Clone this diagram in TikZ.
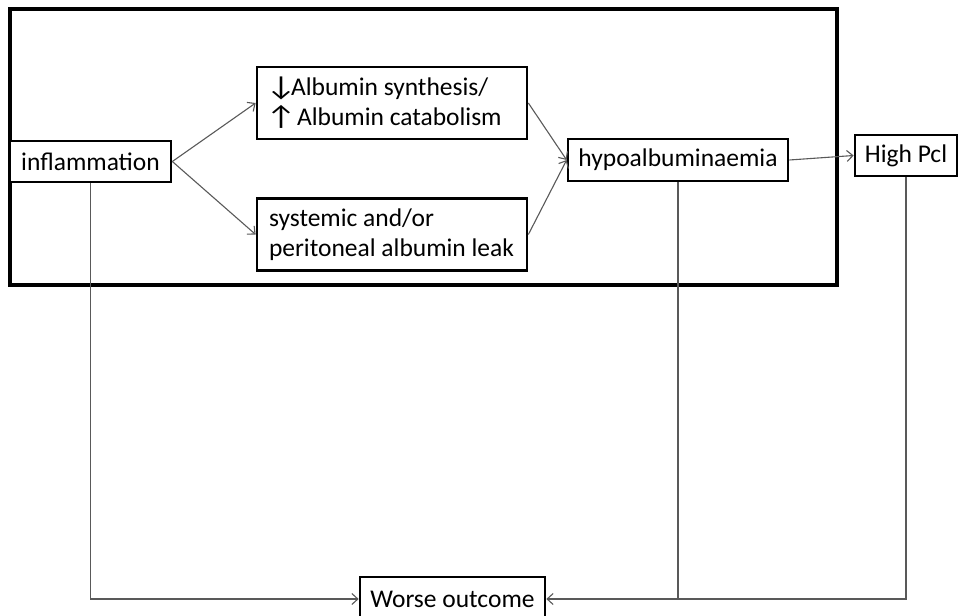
\documentclass[tikz,border=0pt]{standalone}
\usepackage{graphicx}
\usepackage{fontspec}
\setmainfont{Carlito}
\usetikzlibrary{arrows.meta}
% slightly widened arrow glyphs, side bearings trimmed
\newcommand{\dnarrow}{\hspace{-3pt}\scalebox{1.3}[1.08]{↓}\hspace{-5pt}}
\newcommand{\uparr}{\hspace{-3pt}\scalebox{1.3}[1.08]{↑}\hspace{1pt}}
\begin{document}
\begin{tikzpicture}[x=1pt,y=-1pt,
  box/.style={draw=black, line width=2.7pt, fill=white, inner sep=0pt,
    font=\fontsize{25.5}{30}\selectfont},
  twoline/.style={box, minimum width=270, minimum height=72,
    text width=246pt, inner xsep=12pt, align=flush left},
  link/.style={draw=black!65, line width=1.1pt},
  arr/.style={link, -{Straight Barb[length=6pt,width=11pt]}}]
\useasboundingbox (0,0) rectangle (959,616);
\clip (0,0) rectangle (959,616);

% frame around the inflammation pathway
\draw[line width=3.3pt] (10,9) rectangle (837,285);

% boxes
\node[box, minimum width=161, minimum height=41] (infl) at (90.5,161.5) {inflammation};
\node[twoline] (alb) at (392,103) {\dnarrow Albumin synthesis/\\\uparr Albumin catabolism};
\node[twoline] (leak) at (392,234.5) {systemic and/or\\peritoneal albumin leak};
\node[box, minimum width=220, minimum height=42] (hypo) at (678,160) {hypoalbuminaemia};
\node[box, minimum width=102, minimum height=41] (pcl) at (906,155.5) {High Pcl};
\node[box, minimum width=185, minimum height=44] (worse) at (452.5,599) {Worse outcome};

% causal links
\draw[arr] (infl.east) -- (alb.west);
\draw[arr] (infl.east) -- (leak.west);
\draw[arr] (alb.east) -- (hypo.west);
\draw[arr] (leak.east) -- (hypo.west);
\draw[arr] (hypo.east) -- (pcl.west);

% links to outcome
\draw[arr] (infl.south) |- (worse.west);
\draw[arr] (hypo.south) |- (worse.east);
\coordinate (join) at (hypo.south |- worse.east);
\draw[link] (pcl.south) |- (join);
\end{tikzpicture}
\end{document}
